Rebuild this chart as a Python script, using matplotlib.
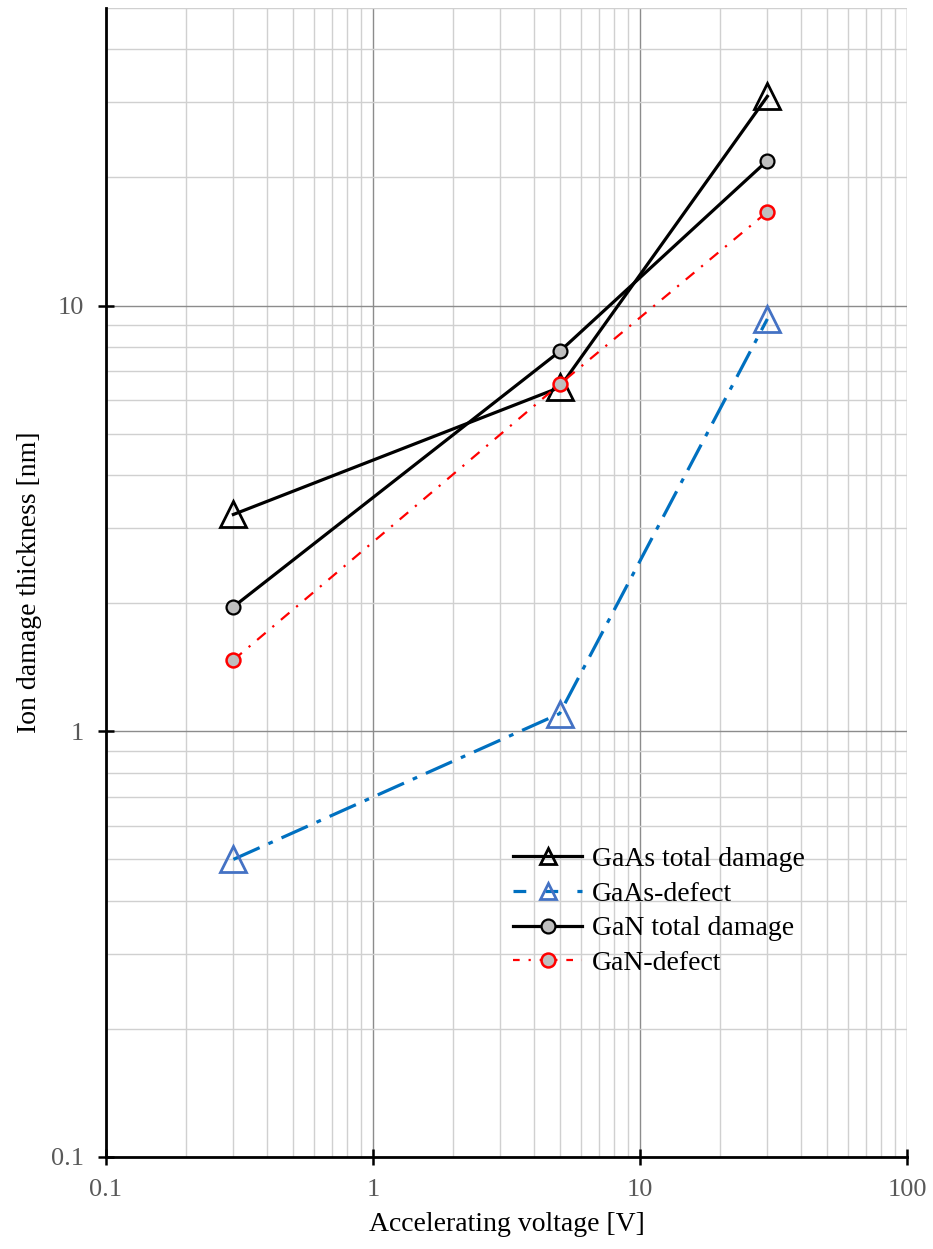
import matplotlib.pyplot as plt
from matplotlib.lines import Line2D
from matplotlib.ticker import LogLocator, FixedLocator, FixedFormatter

plt.rcParams['font.family'] = ['Liberation Serif', 'DejaVu Serif']

# accelerating voltage [V]
voltage = [0.3, 5, 30]

# ion damage thickness [nm]
gaas_total = [3.23, 6.42, 31.0]
gaas_defect = [0.50, 1.10, 9.3]
gan_total = [1.96, 7.8, 21.9]
gan_defect = [1.47, 6.53, 16.6]

x_ticks = [0.1, 1, 10, 100]
x_labels = ['0.1', '1', '10', '100']
y_ticks = [0.1, 1, 10]
y_labels = ['0.1', '1', '10']

fig = plt.figure(figsize=(9.33, 12.49), dpi=100)
ax = fig.add_axes([0.1136, 0.0737, 0.8585, 0.9199])

ax.set_xscale('log')
ax.set_yscale('log')
ax.set_xlim(0.1, 100)
ax.set_ylim(0.1, 50)

grey_fill = '#BFBFBF'

ax.plot(voltage, gaas_total, color='black', lw=2.3, marker='^', ms=19,
        mfc='none', mec='black', mew=2.0, zorder=4)
ax.plot(voltage, gaas_defect, color='#0070C0', lw=2.3, ls=(0, (9, 3, 1.5, 3)),
        marker='^', ms=19, mfc='none', mec='#4472C4', mew=2.0, zorder=3)
ax.plot(voltage, gan_total, color='black', lw=2.3, marker='o', ms=10,
        mfc=grey_fill, mec='black', mew=1.6, zorder=5)
ax.plot(voltage, gan_defect, color='#FF0000', lw=1.6, ls=(0, (5, 4, 1, 4)),
        marker='o', ms=10, mfc=grey_fill, mec='#FF0000', mew=1.8, zorder=4)

# grid: darker lines on decades, light on the minor ticks
ax.xaxis.set_major_locator(FixedLocator(x_ticks))
ax.xaxis.set_major_formatter(FixedFormatter(x_labels))
ax.yaxis.set_major_locator(FixedLocator(y_ticks))
ax.yaxis.set_major_formatter(FixedFormatter(y_labels))
ax.xaxis.set_minor_locator(LogLocator(base=10, subs=range(2, 10)))
ax.yaxis.set_minor_locator(LogLocator(base=10, subs=range(2, 10)))
ax.grid(which='major', color='#8C8C8C', lw=1.0, zorder=0)
ax.grid(which='minor', color='#D0D0D0', lw=1.0, zorder=0)
ax.set_axisbelow(True)

ax.tick_params(which='major', direction='inout', length=12, width=1.8,
               labelsize=19, labelcolor='#595959', pad=10)
ax.tick_params(which='minor', length=0)

for side in ['top', 'right']:
    ax.spines[side].set_visible(False)
for side in ['left', 'bottom']:
    ax.spines[side].set_linewidth(2.0)

ax.set_xlabel('Accelerating voltage [V]', fontsize=20, labelpad=8)
ax.set_ylabel('Ion damage thickness [nm]', fontsize=20, labelpad=6)

handles = [
    Line2D([], [], color='black', lw=2.3, marker='^', ms=11, mfc='none',
           mec='black', mew=2.0),
    Line2D([], [], color='#0070C0', lw=2.3, ls=(0, (4, 6)), marker='^', ms=11,
           mfc='none', mec='#4472C4', mew=2.0),
    Line2D([], [], color='black', lw=2.3, marker='o', ms=10, mfc=grey_fill,
           mec='black', mew=1.6),
    Line2D([], [], color='#FF0000', lw=1.6, ls=(0, (3, 4, 1, 4)), marker='o',
           ms=10, mfc=grey_fill, mec='#FF0000', mew=1.8),
]
labels = ['GaAs total damage', 'GaAs-defect', 'GaN total damage', 'GaN-defect']
leg = ax.legend(handles, labels, loc='upper left', bbox_to_anchor=(0.508, 0.270),
                frameon=False, fontsize=20, handlelength=2.5, handletextpad=0.36,
                labelspacing=0.33, borderpad=0, borderaxespad=0)

fig.savefig('out.png', dpi=100)
